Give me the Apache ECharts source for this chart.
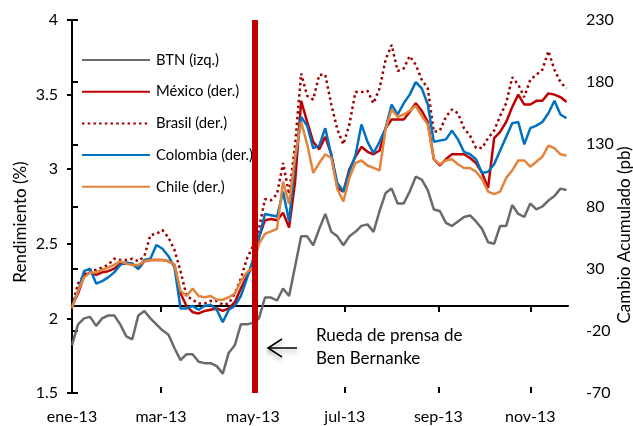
<!DOCTYPE html>
<html>
<head>
<meta charset="utf-8">
<script src="https://cdn.jsdelivr.net/npm/echarts@6/dist/echarts.min.js"></script>
<style>
html, body { margin: 0; padding: 0; background: #fff; }
#chart { width: 633px; height: 426px; }
</style>
</head>
<body>
<div id="chart"></div>
<script>
// fechas de muestreo (cada 4 dias)
var fechas = ['2013-01-01','2013-01-05','2013-01-09','2013-01-13','2013-01-17','2013-01-21','2013-01-25','2013-01-29',
  '2013-02-02','2013-02-06','2013-02-10','2013-02-14','2013-02-18','2013-02-22','2013-02-26',
  '2013-03-02','2013-03-06','2013-03-10','2013-03-14','2013-03-18','2013-03-22','2013-03-26','2013-03-30',
  '2013-04-03','2013-04-07','2013-04-11','2013-04-15','2013-04-19','2013-04-23','2013-04-27',
  '2013-05-01','2013-05-05','2013-05-09','2013-05-13','2013-05-17','2013-05-21','2013-05-25','2013-05-29',
  '2013-06-02','2013-06-06','2013-06-10','2013-06-14','2013-06-18','2013-06-22','2013-06-26','2013-06-30',
  '2013-07-04','2013-07-08','2013-07-12','2013-07-16','2013-07-20','2013-07-24','2013-07-28',
  '2013-08-01','2013-08-05','2013-08-09','2013-08-13','2013-08-17','2013-08-21','2013-08-25','2013-08-29',
  '2013-09-02','2013-09-06','2013-09-10','2013-09-14','2013-09-18','2013-09-22','2013-09-26','2013-09-30',
  '2013-10-04','2013-10-08','2013-10-12','2013-10-16','2013-10-20','2013-10-24','2013-10-28',
  '2013-11-01','2013-11-05','2013-11-09','2013-11-13','2013-11-17','2013-11-21','2013-11-25'];

// BTN (%) eje izquierdo
var btn = [1.82,1.96,2.00,2.01,1.95,2.00,2.02,2.02,1.96,1.88,
  1.86,2.02,2.05,2.00,1.96,1.92,1.89,1.80,1.72,1.76,
  1.76,1.71,1.70,1.70,1.68,1.63,1.77,1.82,1.96,1.96,
  1.97,2.00,2.14,2.14,2.12,2.20,2.15,2.35,2.55,2.55,
  2.49,2.60,2.70,2.58,2.55,2.49,2.55,2.58,2.62,2.63,
  2.58,2.72,2.84,2.87,2.77,2.77,2.85,2.95,2.93,2.86,
  2.73,2.72,2.64,2.62,2.65,2.68,2.69,2.65,2.60,2.51,
  2.50,2.62,2.62,2.76,2.70,2.68,2.77,2.73,2.75,2.79,
  2.82,2.87,2.86];

// cambio acumulado (pb) eje derecho
var mexico = [0,10,24,27,25,27,28,30,34,34,
  34,30,36,37,37,37,36,33,10,0,
  -5,-6,-4,-3,-2,-4,-2,3,14,24,
  32,55,69,70,69,75,63,100,165,148,
  132,126,136,122,95,92,110,120,128,124,
  122,125,143,150,150,150,156,163,157,148,
  118,113,118,122,122,122,119,115,107,95,
  135,140,148,160,170,162,162,165,165,171,
  170,168,164];
var brasil = [0,18,25,29,29,31,33,38,37,37,
  38,36,40,57,58,61,55,45,28,8,
  5,2,2,4,4,1,2,10,22,38,
  48,62,86,85,90,115,90,130,187,169,
  166,186,186,162,142,130,146,172,172,173,
  163,175,198,210,189,191,201,194,182,175,
  140,141,152,158,155,143,137,127,127,135,
  141,153,163,184,178,168,182,186,190,205,
  190,180,175];
var colombia = [0,12,28,30,18,20,23,27,33,35,
  34,30,37,38,49,46,40,31,-2,-2,
  0,-3,0,1,-3,-13,-3,0,8,22,
  37,55,74,73,72,92,68,117,152,145,
  127,129,143,121,99,92,108,121,146,132,
  123,132,143,162,154,163,170,180,175,162,
  132,133,134,141,134,124,122,118,107,108,
  114,125,136,147,148,130,143,145,148,155,
  165,154,151];
var chile = [-2,12,23,27,27,29,31,33,36,34,
  33,33,36,37,37,37,36,33,12,8,
  14,8,7,8,5,5,7,10,20,27,
  31,50,58,60,62,100,82,120,148,130,
  107,115,122,119,94,84,103,115,117,113,
  111,109,142,158,152,154,157,161,153,146,
  118,114,117,118,114,111,111,108,102,92,
  90,92,103,109,117,117,112,116,120,129,
  127,122,121];

var ticksX = ['2013-01-01','2013-03-01','2013-05-01','2013-07-01','2013-09-01','2013-11-01'];
var ticksDer = [-70,-20,30,80,130,180,230];
var meses = ['ene','feb','mar','abr','may','jun','jul','ago','sep','oct','nov','dic'];
var fechaInicio = '2013-01-01', fechaFin = '2013-11-26';
var fechaRueda = '2013-05-02';

// dias desde el 1 de enero
var DIA = 86400000;
function dia(s) {
  var p = s.split('-');
  return Math.round((Date.UTC(+p[0], +p[1] - 1, +p[2]) - Date.UTC(2013, 0, 1)) / DIA);
}
function etiquetaDia(d) {
  var f = new Date(Date.UTC(2013, 0, 1) + d * DIA);
  return meses[f.getUTCMonth()] + '-' + String(f.getUTCFullYear()).slice(2);
}
function serie(vals) {
  return vals.map(function (v, i) { return [dia(fechas[i]), v]; });
}

var fuente = 'Lato';
var negro = { color: '#000', width: 2 };
var myChart = echarts.init(document.getElementById('chart'), null, { renderer: 'canvas' });
var option = {
  animation: false,
  textStyle: { fontFamily: fuente, color: '#000' },
  grid: { left: 72, right: 65, top: 20, bottom: 33 },
  legend: {
    orient: 'vertical', left: 81, top: 52, padding: 0,
    itemWidth: 68, itemHeight: 16, itemGap: 15.7,
    itemStyle: { opacity: 0 },
    textStyle: { fontFamily: fuente, fontSize: 14.8, lineHeight: 16, color: '#000', padding: [0, 0, 0, 1] },
    data: ['BTN (izq.)', 'México (der.)', 'Brasil (der.)', 'Colombia (der.)', 'Chile (der.)']
  },
  xAxis: [
    {
      type: 'value',
      min: dia(fechaInicio), max: dia(fechaFin),
      axisLine: { lineStyle: negro },
      axisTick: { show: true, length: 6, lineStyle: negro, customValues: ticksX.map(dia) },
      axisLabel: {
        customValues: ticksX.map(dia), fontSize: 16, color: '#000', margin: 16, fontFamily: fuente,
        formatter: etiquetaDia
      },
      splitLine: { show: false }
    },
    {
      // marcas hacia adentro (cruzan el eje como en Excel)
      type: 'value', position: 'bottom',
      min: dia(fechaInicio), max: dia(fechaFin),
      axisLine: { show: false },
      axisTick: { show: true, inside: true, length: 6, lineStyle: negro, customValues: ticksX.map(dia) },
      axisLabel: { show: false },
      splitLine: { show: false }
    }
  ],
  yAxis: [
    {
      type: 'value', min: 1.5, max: 4, interval: 0.5, position: 'left',
      axisLine: { show: true, lineStyle: negro },
      axisTick: { show: true, length: 5, lineStyle: negro },
      axisLabel: { fontSize: 16, color: '#000', margin: 14, fontFamily: fuente },
      splitLine: { show: false }
    },
    {
      type: 'value', min: -70, max: 230, position: 'right',
      axisLine: { show: true, lineStyle: negro },
      axisTick: { show: true, length: 6, lineStyle: negro, customValues: ticksDer },
      axisLabel: { fontSize: 16, color: '#000', margin: 18, fontFamily: fuente, customValues: ticksDer },
      splitLine: { show: false }
    }
  ],
  series: [
    { name: 'BTN (izq.)', type: 'line', yAxisIndex: 0, data: serie(btn), symbol: 'none',
      lineStyle: { color: '#6a6a6a', width: 2.5 }, itemStyle: { color: '#6a6a6a' } },
    { name: 'México (der.)', type: 'line', yAxisIndex: 1, data: serie(mexico), symbol: 'none',
      lineStyle: { color: '#C00000', width: 2.5 }, itemStyle: { color: '#C00000' } },
    { name: 'Brasil (der.)', type: 'line', yAxisIndex: 1, data: serie(brasil), symbol: 'none',
      lineStyle: { color: '#9E0000', width: 2.5, type: [2.5, 3.2] }, itemStyle: { color: '#9E0000' } },
    { name: 'Colombia (der.)', type: 'line', yAxisIndex: 1, data: serie(colombia), symbol: 'none',
      lineStyle: { color: '#0070C0', width: 2.5 }, itemStyle: { color: '#0070C0' } },
    { name: 'Chile (der.)', type: 'line', yAxisIndex: 1, data: serie(chile), symbol: 'none',
      lineStyle: { color: '#E3843C', width: 2.5 }, itemStyle: { color: '#E3843C' },
      markLine: {
        silent: true, symbol: 'none', label: { show: false },
        lineStyle: { color: '#C00000', width: 6, type: 'solid' },
        data: [{ xAxis: dia(fechaRueda) }]
      } }
  ],
  graphic: [
    { type: 'text', x: 21, y: 222, rotation: Math.PI / 2,
      style: { text: 'Rendimiento (%)', font: '17px Lato', fill: '#000', align: 'center', verticalAlign: 'middle' } },
    { type: 'text', x: 625, y: 235, rotation: Math.PI / 2,
      style: { text: 'Cambio Acumulado (pb)', font: '17px Lato', fill: '#000', align: 'center', verticalAlign: 'middle' } },
    { type: 'text', x: 316, y: 336,
      style: { text: 'Rueda de prensa de', font: '17px Lato', fill: '#000', align: 'left', verticalAlign: 'middle' } },
    { type: 'text', x: 316, y: 358.5,
      style: { text: 'Ben Bernanke', font: '17px Lato', fill: '#000', align: 'left', verticalAlign: 'middle' } },
    { type: 'line', shape: { x1: 297, y1: 348, x2: 268, y2: 348 },
      style: { stroke: '#000', lineWidth: 1.5, shadowBlur: 4, shadowColor: 'rgba(0,0,0,0.35)', shadowOffsetY: 3 } },
    { type: 'polyline', shape: { points: [[282, 339], [268, 348], [282, 357]] },
      style: { stroke: '#000', fill: null, lineWidth: 1.5, shadowBlur: 4, shadowColor: 'rgba(0,0,0,0.35)', shadowOffsetY: 3 } }
  ]
};
myChart.setOption(option);
</script>
</body>
</html>
